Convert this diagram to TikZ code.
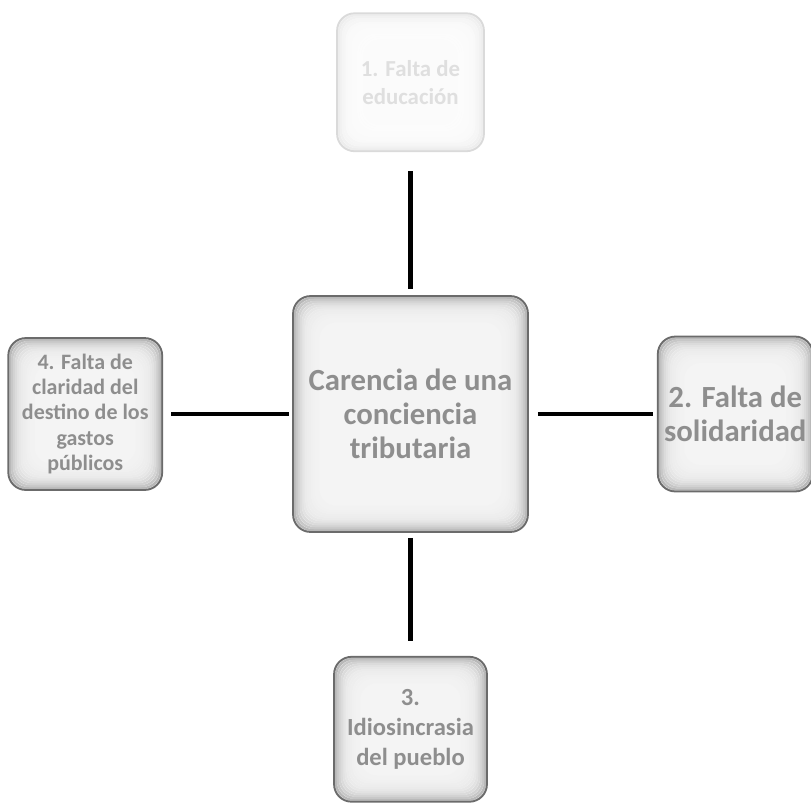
\documentclass[tikz,border=0pt]{standalone}
\usepackage{fontspec}
\setmainfont{Carlito}
\usepackage{tikz}
\usetikzlibrary{positioning, calc}
\definecolor{edgegray}{HTML}{6B6B6B}
\definecolor{labelgray}{HTML}{8E8E8E}
\tikzset{
    glowbox/.style={
        rectangle, rounded corners=10pt, fill=gray!#1!white!9,
        draw=edgegray!#1, line width=1pt,
        align=center, text=labelgray, font=\bfseries,
        path picture={
            \foreach \k in {0,...,13}{
                \pgfmathtruncatemacro{\shade}{(9+64*exp(-0.3*\k))*#1/100}
                \draw[gray!\shade, line width=1.3pt, rounded corners=10pt]
                    ($(path picture bounding box.south west)+(\k*1.1pt,\k*1.1pt)$) rectangle
                    ($(path picture bounding box.north east)-(\k*1.1pt,\k*1.1pt)$);
            }
        }
    },
    glowbox/.default=100,
    linkline/.style={
        line width=2.4pt, color=black
    },
}
\begin{document}
\begin{tikzpicture}

    \useasboundingbox (0,0) rectangle (16.22,-16.18);

    % central issue
    \node[glowbox, minimum width=4.7cm, minimum height=4.72cm,
          font=\fontsize{17.5}{19.5}\selectfont\bfseries] (carencia) at (8.21,-8.28)
        {Carencia de una\\conciencia\\tributaria};

    % the four causes
    \node[glowbox=25, fill=gray!3, minimum width=2.94cm, minimum height=2.76cm,
          text=gray!25, font=\fontsize{13}{16}\selectfont\bfseries,
          above=2.86cm of carencia] (educacion)
        {1. Falta de\\educación};
    \node[glowbox, minimum width=3.1cm, minimum height=3.1cm,
          font=\fontsize{17.5}{19}\selectfont\bfseries, inner sep=1pt,
          right=2.56cm of carencia] (solidaridad)
        {2. Falta de\\solidaridad};
    \node[glowbox, minimum width=3.06cm, minimum height=2.9cm,
          font=\fontsize{14}{17}\selectfont\bfseries,
          below=2.46cm of carencia] (idiosincrasia)
        {3.\\Idiosincrasia\\del pueblo};
    \node[glowbox, minimum width=3.08cm, minimum height=3.04cm,
          font=\fontsize{12.5}{14.5}\selectfont\bfseries, inner sep=1pt,
          left=2.58cm of carencia] (claridad)
        {4. Falta de\\claridad del\\destino de los\\gastos\\públicos};

    % connectors
    \draw[linkline, shorten <=0.38cm, shorten >=0.12cm] (educacion) -- (carencia);
    \draw[linkline, shorten <=0.18cm, shorten >=0.08cm] (carencia) -- (solidaridad);
    \draw[linkline, shorten <=0.1cm, shorten >=0.3cm] (carencia) -- (idiosincrasia);
    \draw[linkline, shorten <=0.16cm, shorten >=0.06cm] (claridad) -- (carencia);

\end{tikzpicture}
\end{document}
